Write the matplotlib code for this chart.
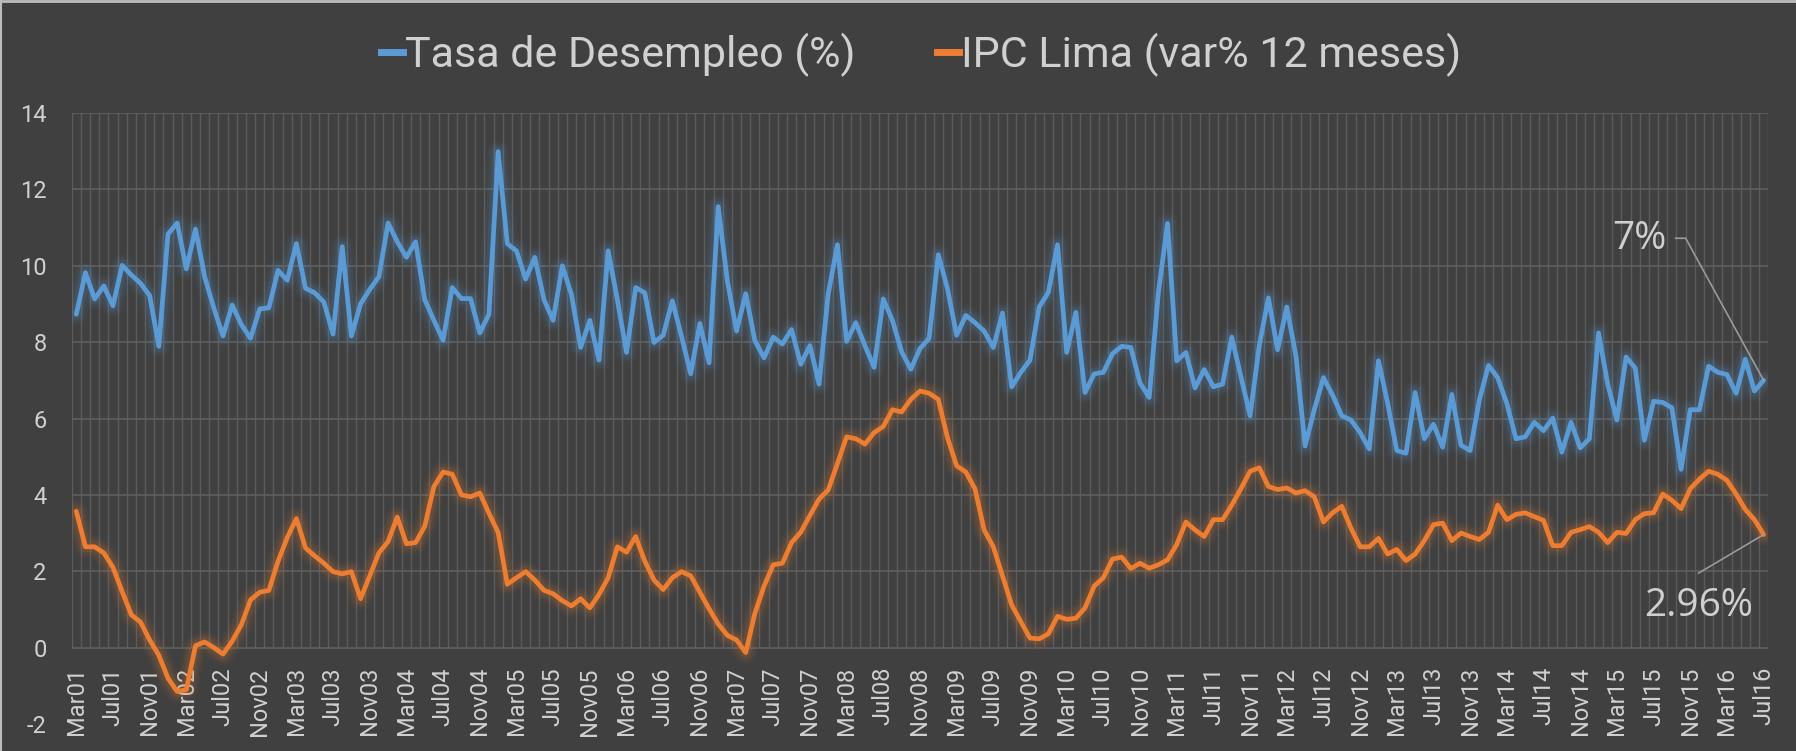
import matplotlib
matplotlib.use("Agg")
import matplotlib.pyplot as plt
from matplotlib.lines import Line2D

# ---------------- data ----------------
desempleo = [
    8.73, 9.82, 9.13, 9.47, 8.95, 10.01, 9.76, 9.54, 9.22, 7.89,
    10.83, 11.12, 9.92, 10.96, 9.71, 8.89, 8.16, 8.97, 8.46, 8.10,
    8.87, 8.90, 9.88, 9.62, 10.58, 9.41, 9.29, 9.05, 8.21, 10.50,
    8.16, 9.00, 9.38, 9.71, 11.12, 10.63, 10.22, 10.63, 9.11, 8.57,
    8.05, 9.43, 9.14, 9.14, 8.24, 8.73, 12.99, 10.58, 10.39, 9.65,
    10.22, 9.11, 8.57, 10.00, 9.24, 7.86, 8.57, 7.53, 10.39, 9.11,
    7.73, 9.43, 9.29, 7.99, 8.18, 9.08, 8.15, 7.17, 8.49, 7.46,
    11.55, 9.60, 8.29, 9.27, 8.04, 7.59, 8.13, 7.95, 8.33, 7.42,
    7.91, 6.90, 9.27, 10.55, 8.02, 8.51, 7.91, 7.34, 9.13, 8.57,
    7.75, 7.29, 7.83, 8.10, 10.29, 9.40, 8.18, 8.70, 8.51, 8.29,
    7.86, 8.76, 6.83, 7.21, 7.53, 8.92, 9.30, 10.55, 7.73, 8.78,
    6.68, 7.17, 7.21, 7.70, 7.89, 7.86, 6.93, 6.55, 9.30, 11.11,
    7.51, 7.73, 6.80, 7.28, 6.83, 6.90, 8.13, 7.10, 6.07, 7.91,
    9.16, 7.80, 8.92, 7.64, 5.28, 6.23, 7.07, 6.61, 6.07, 5.96,
    5.63, 5.20, 7.51, 6.40, 5.16, 5.09, 6.68, 5.47, 5.85, 5.25,
    6.63, 5.30, 5.16, 6.48, 7.39, 7.07, 6.39, 5.47, 5.52, 5.90,
    5.68, 6.01, 5.12, 5.90, 5.23, 5.47, 8.24, 6.90, 5.96, 7.61,
    7.32, 5.43, 6.45, 6.42, 6.28, 4.67, 6.23, 6.23, 7.37, 7.21,
    7.15, 6.66, 7.55, 6.72, 7.00,
]

ipc_lima = [
    3.57, 2.64, 2.64, 2.48, 2.10, 1.47, 0.86, 0.67, 0.20, -0.20,
    -0.80, -1.15, -1.10, 0.05, 0.15, 0.00, -0.17, 0.17, 0.60, 1.25,
    1.45, 1.50, 2.26, 2.88, 3.38, 2.61, 2.40, 2.21, 1.99, 1.93,
    1.99, 1.28, 1.88, 2.48, 2.78, 3.42, 2.72, 2.75, 3.18, 4.22,
    4.60, 4.54, 4.00, 3.95, 4.05, 3.52, 3.02, 1.66, 1.83, 1.99,
    1.77, 1.50, 1.41, 1.23, 1.09, 1.28, 1.04, 1.39, 1.83, 2.64,
    2.50, 2.91, 2.26, 1.77, 1.52, 1.83, 1.99, 1.88, 1.45, 1.02,
    0.62, 0.32, 0.20, -0.13, 0.90, 1.61, 2.17, 2.21, 2.75, 3.02,
    3.46, 3.89, 4.13, 4.82, 5.52, 5.47, 5.33, 5.63, 5.79, 6.23,
    6.17, 6.50, 6.72, 6.66, 6.50, 5.50, 4.76, 4.60, 4.16, 3.08,
    2.64, 1.88, 1.12, 0.68, 0.25, 0.23, 0.36, 0.82, 0.74, 0.77,
    1.04, 1.61, 1.83, 2.32, 2.37, 2.07, 2.21, 2.08, 2.17, 2.30,
    2.70, 3.29, 3.08, 2.91, 3.35, 3.35, 3.73, 4.16, 4.62, 4.71,
    4.22, 4.14, 4.18, 4.05, 4.11, 3.95, 3.29, 3.53, 3.70, 3.13,
    2.64, 2.64, 2.86, 2.45, 2.57, 2.28, 2.45, 2.80, 3.22, 3.26,
    2.80, 3.00, 2.91, 2.83, 3.02, 3.73, 3.35, 3.49, 3.53, 3.43,
    3.33, 2.67, 2.67, 3.02, 3.09, 3.17, 3.02, 2.75, 3.02, 2.99,
    3.35, 3.51, 3.53, 4.02, 3.86, 3.64, 4.16, 4.41, 4.62, 4.54,
    4.38, 4.02, 3.62, 3.35, 2.96,
]

tick_labels = [
    "Mar01", "Jul01", "Nov01", "Mar02", "Jul02", "Nov02", "Mar03", "Jul03",
    "Nov03", "Mar04", "Jul04", "Nov04", "Mar05", "Jul05", "Nov05", "Mar06",
    "Jul06", "Nov06", "Mar07", "Jul07", "Nov07", "Mar08", "Jul08", "Nov08",
    "Mar09", "Jul09", "Nov09", "Mar10", "Jul10", "Nov10", "Mar11", "Jul11",
    "Nov11", "Mar12", "Jul12", "Nov12", "Mar13", "Jul13", "Nov13", "Mar14",
    "Jul14", "Nov14", "Mar15", "Jul15", "Nov15", "Mar16", "Jul16",
]
tick_step = 4
y_ticks = [-2, 0, 2, 4, 6, 8, 10, 12, 14]

series_names = ["Tasa de Desempleo (%)", "IPC Lima (var% 12 meses)"]
label_desempleo = "7%"
label_ipc = "2.96%"

# ---------------- style ----------------
BG = "#404040"
GRID = "#5c5c5c"
TEXT = "#D0D0D0"
BLUE = "#5B9BD5"
ORANGE = "#ED7D31"
TICK_FONT = ["Roboto", "DejaVu Sans"]
LEG_FONT = ["Roboto", "DejaVu Sans"]
ANN_FONT = ["Open Sans", "DejaVu Sans"]

n = len(desempleo)
x = list(range(n))

fig = plt.figure(figsize=(17.96, 7.51), dpi=100, facecolor=BG)
ax = fig.add_axes([71.7 / 1796, 1 - 724 / 751, (1768.2 - 71.7) / 1796, (724 - 113) / 751])
ax.set_facecolor(BG)
ax.set_xlim(-0.5, n - 0.5)
ax.set_ylim(-2, 14)

# grid
ax.vlines([k - 0.5 for k in range(n + 1)], 0, 14, colors=GRID, linewidth=1.0, zorder=1)
ax.hlines([t for t in y_ticks if t >= 0], -0.5, n - 0.5, colors=GRID, linewidth=1.3, zorder=1)

for s in ax.spines.values():
    s.set_visible(False)
ax.spines["bottom"].set_position(("data", 0))

# glow + lines
for data, col in ((desempleo, BLUE), (ipc_lima, ORANGE)):
    for lw, a in ((16, 0.05), (12, 0.07), (8, 0.12)):
        ax.plot(x, data, color=col, linewidth=lw, alpha=a, solid_joinstyle="round",
                solid_capstyle="round", zorder=2)
    ax.plot(x, data, color=col, linewidth=3.4, solid_joinstyle="round",
            solid_capstyle="round", zorder=3)

# ticks
ax.set_yticks(y_ticks)
ax.set_yticklabels([str(t) for t in y_ticks], fontsize=17, color=TEXT, family=TICK_FONT)
ax.set_xticks(list(range(0, n, tick_step)))
ax.set_xticklabels(tick_labels, rotation=90, fontsize=17, color=TEXT, family=TICK_FONT)
ax.tick_params(axis="both", length=0)
ax.tick_params(axis="y", pad=18)
ax.tick_params(axis="x", pad=14)

# data labels with leader lines
last = n - 1
yd = desempleo[-1]
ax.text(last - 13.5, 10.7, label_desempleo, fontsize=28, color=TEXT, family=ANN_FONT,
        ha="center", va="center", zorder=4)
ax.plot([last - 9.6, last - 8.5, last], [10.72, 10.72, yd], color="#9a9a9a",
        linewidth=1.2, zorder=4)

yi = ipc_lima[-1]
ax.text(last - 7.1, 1.1, label_ipc, fontsize=28, color=TEXT, family=ANN_FONT,
        ha="center", va="center", zorder=4)
ax.plot([last - 7.1, last], [1.95, yi], color="#9a9a9a", linewidth=1.2, zorder=4)

# legend
handles = [Line2D([], [], color=BLUE, linewidth=5), Line2D([], [], color=ORANGE, linewidth=5)]
leg = fig.legend(handles, series_names, loc="center", bbox_to_anchor=(0.513, 0.927),
                 ncol=2, frameon=False, handlelength=0.5, handletextpad=0.05,
                 columnspacing=1.9, prop={"family": LEG_FONT, "size": 31})
for t in leg.get_texts():
    t.set_color(TEXT)

# thin chart border (top / left)
fig.add_artist(Line2D([0, 1], [0.9985, 0.9985], transform=fig.transFigure, color="#BDBDBD", linewidth=2))
fig.add_artist(Line2D([0.0006, 0.0006], [0, 1], transform=fig.transFigure, color="#BDBDBD", linewidth=1.5))

fig.savefig("out.png", dpi=100, facecolor=BG)
